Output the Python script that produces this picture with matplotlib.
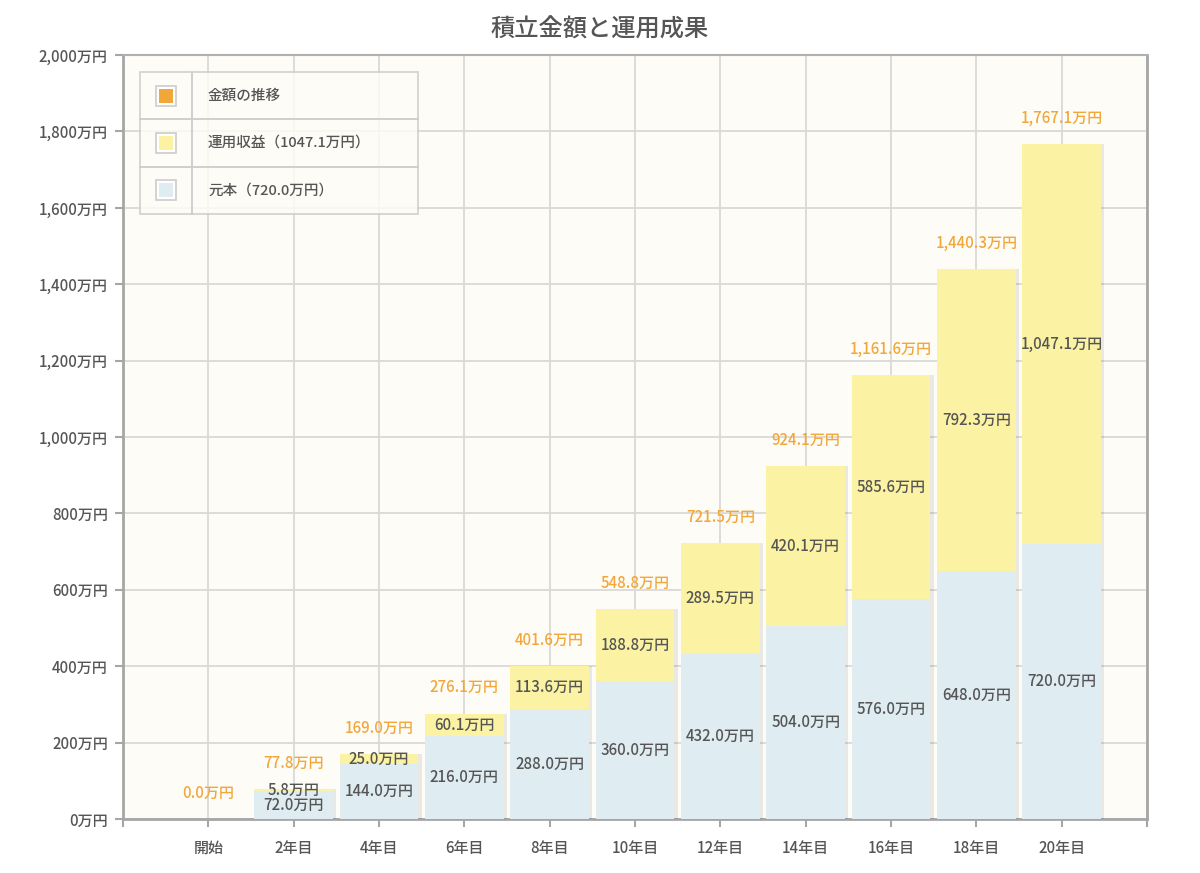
import matplotlib
matplotlib.use("Agg")
import matplotlib.pyplot as plt
from matplotlib.patches import Rectangle
from matplotlib.lines import Line2D
import matplotlib.patheffects as pe

plt.rcParams['font.family'] = ['Noto Sans CJK JP', 'DejaVu Sans']
plt.rcParams['font.weight'] = 'medium'

categories = ['開始', '2年目', '4年目', '6年目', '8年目', '10年目', '12年目', '14年目', '16年目', '18年目', '20年目']
principal = [0.0, 72.0, 144.0, 216.0, 288.0, 360.0, 432.0, 504.0, 576.0, 648.0, 720.0]
gains = [0.0, 5.8, 25.0, 60.1, 113.6, 188.8, 289.5, 420.1, 585.6, 792.3, 1047.1]
totals = [0.0, 77.8, 169.0, 276.1, 401.6, 548.8, 721.5, 924.1, 1161.6, 1440.3, 1767.1]
yticks = [0, 200, 400, 600, 800, 1000, 1200, 1400, 1600, 1800, 2000]
legend_labels = ['金額の推移', '運用収益（1047.1万円）', '元本（720.0万円）']

BLUE = '#DFECF2'
YELLOW = '#FBF3A3'
ORANGE = '#F2A73B'
TEXT = '#555555'
GRID = '#D9D9D9'
SPINE = '#A6A6A6'
FS = 10.8

fig = plt.figure(figsize=(12, 8.73), dpi=100)
fig.patch.set_facecolor('white')
ax = fig.add_axes([123/1200, 54/873, 1024/1200, 764/873])
ax.set_facecolor('#FDFCF6')

x = list(range(len(categories)))
shadow = [pe.SimplePatchShadow(offset=(2.5, 0), shadow_rgbFace='#000000', alpha=0.08), pe.Normal()]
b1 = ax.bar(x, principal, width=0.92, color=BLUE, zorder=3, linewidth=0)
b2 = ax.bar(x, gains, bottom=principal, width=0.92, color=YELLOW, zorder=3, linewidth=0)
for r in list(b1) + list(b2):
    r.set_path_effects(shadow)

for i in x:
    if principal[i] > 0:
        ax.text(i, principal[i] / 2, f'{principal[i]:,.1f}万円', ha='center', va='center',
                fontsize=FS, color=TEXT, zorder=5)
    if gains[i] > 0:
        ax.text(i, principal[i] + gains[i] / 2, f'{gains[i]:,.1f}万円', ha='center', va='center',
                fontsize=FS, color=TEXT, zorder=5)
    ax.annotate(f'{totals[i]:,.1f}万円', (i, totals[i]), xytext=(0, 18.5), textcoords='offset points',
                ha='center', va='center', fontsize=FS, color=ORANGE, zorder=5)

ax.set_xlim(-1, 11)
ax.set_ylim(0, 2000)
ax.set_xticks(range(-1, 12))
ax.set_xticklabels([''] + categories + [''])
ax.set_yticks(yticks)
ax.set_yticklabels([f'{v:,}万円' for v in yticks])
ax.tick_params(axis='both', colors=SPINE, labelcolor=TEXT, labelsize=FS, length=6, width=1.5)
ax.tick_params(axis='x', pad=9)
ax.tick_params(axis='y', pad=5)
ax.grid(True, color=GRID, linewidth=1.3, zorder=0)
ax.set_axisbelow(True)
for side in ['left', 'bottom', 'right']:
    ax.spines[side].set_color(SPINE)
    ax.spines[side].set_linewidth(2.0)
ax.spines['top'].set_color('#B0B0B0')
ax.spines['top'].set_linewidth(1.5)

fig.text(0.5, 1 - 30/873, '積立金額と運用成果', ha='center', va='center', fontsize=17.5, color=TEXT)

# table-like legend
W, H = 1024.0, 764.0
def axx(px):
    return (px - 123) / W
def axy(py):
    return (818 - py) / H

lx0, lx1, lsep = axx(140), axx(418), axx(192)
ly_top, ly_bot = axy(71), axy(213)
ax.add_patch(Rectangle((lx0, ly_bot), lx1 - lx0, ly_top - ly_bot, transform=ax.transAxes,
                       facecolor='#FDFCF6', edgecolor='#CCCCCC', linewidth=1.3, alpha=0.85, zorder=6))
row_h = (ly_top - ly_bot) / 3
for k in range(1, 3):
    yy = ly_top - k * row_h
    ax.add_line(Line2D([lx0, lx1], [yy, yy], transform=ax.transAxes, color='#CCCCCC', linewidth=1.3, zorder=7))
ax.add_line(Line2D([lsep, lsep], [ly_bot, ly_top], transform=ax.transAxes, color='#CCCCCC', linewidth=1.3, zorder=7))
sw_colors = [ORANGE, YELLOW, BLUE]
sw = 20 / W
swh = 20 / H
for k, (lab, c) in enumerate(zip(legend_labels, sw_colors)):
    yc = ly_top - (k + 0.5) * row_h
    xc = axx(166)
    ax.add_patch(Rectangle((xc - sw / 2, yc - swh / 2), sw, swh, transform=ax.transAxes,
                           facecolor='white', edgecolor='#CCCCCC', linewidth=1.2, zorder=8))
    ax.add_patch(Rectangle((xc - sw / 2 + 3 / W, yc - swh / 2 + 3 / H), sw - 6 / W, swh - 6 / H,
                           transform=ax.transAxes, facecolor=c, edgecolor='none', zorder=9))
    ax.text(axx(208), yc, lab, transform=ax.transAxes, ha='left', va='center',
            fontsize=10.5, color=TEXT, zorder=9)

fig.savefig('out.png', dpi=100)
